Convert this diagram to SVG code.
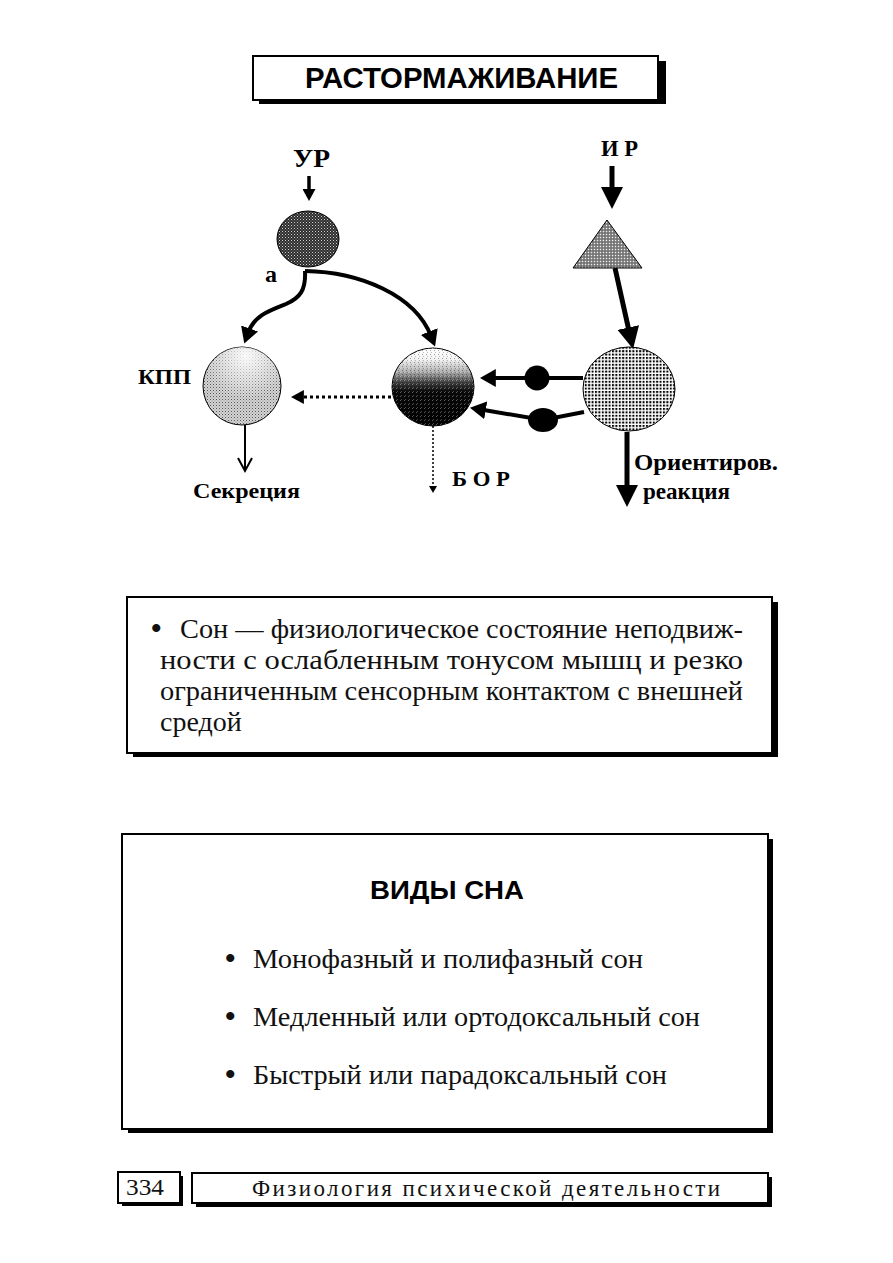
<svg xmlns="http://www.w3.org/2000/svg" width="893" height="1263" viewBox="0 0 893 1263">
<style>
.lbl{font-family:"Liberation Serif","Times New Roman",serif;font-weight:bold;fill:#000}
.body{font-family:"Liberation Serif","Times New Roman",serif;fill:#111}
.bul{font-family:"Liberation Serif","Times New Roman",serif;font-weight:bold;fill:#111}
.head{font-family:"Liberation Sans",Arial,sans-serif;font-weight:bold;fill:#000}
.frame{fill:#fff;stroke:#000;stroke-width:2}
.shadow{fill:#000}
.conn{fill:none;stroke:#000}
</style>
<defs>
<pattern id="pDark" width="3" height="3" patternUnits="userSpaceOnUse"><rect width="3" height="3" fill="#2e2e2e"/><rect width="1" height="1" fill="#d0d0d0"/><rect x="1.5" y="1.5" width="1" height="1" fill="#9a9a9a"/></pattern>
<pattern id="pLight" width="3" height="3" patternUnits="userSpaceOnUse"><rect width="3" height="3" fill="#d4d4d4"/><rect width="1" height="1" fill="#555"/><rect x="1.5" y="1.5" width="1" height="1" fill="#8a8a8a"/></pattern>
<pattern id="pTri" width="3" height="3" patternUnits="userSpaceOnUse"><rect width="3" height="3" fill="#8c8c8c"/><rect width="1" height="1" fill="#eee"/><rect x="1.5" y="1.5" width="1" height="1" fill="#333"/></pattern>
<pattern id="pGrid" width="3.4" height="3.4" patternUnits="userSpaceOnUse"><rect width="3.4" height="3.4" fill="#fff"/><rect width="2" height="2" fill="#000"/></pattern>
<pattern id="pGrain" width="4" height="4" patternUnits="userSpaceOnUse"><rect width="1" height="1" fill="#fff" opacity="0.35"/><rect x="2" y="2" width="1" height="1" fill="#000" opacity="0.35"/><rect x="3" y="0" width="1" height="1" fill="#000" opacity="0.25"/><rect x="1" y="3" width="1" height="1" fill="#fff" opacity="0.25"/></pattern>
<radialGradient id="gHi" cx="0.55" cy="0.12" r="0.55"><stop offset="0" stop-color="#fff" stop-opacity="0.9"/><stop offset="1" stop-color="#fff" stop-opacity="0"/></radialGradient>
<linearGradient id="gBor" x1="0" y1="0" x2="0" y2="1"><stop offset="0" stop-color="#fff"/><stop offset="0.14" stop-color="#f4f4f4"/><stop offset="0.3" stop-color="#b0b0b0"/><stop offset="0.45" stop-color="#3a3a3a"/><stop offset="0.56" stop-color="#0a0a0a"/><stop offset="1" stop-color="#000"/></linearGradient>
<marker id="ahL" viewBox="0 0 10 10" refX="3" refY="5" markerWidth="22" markerHeight="22" preserveAspectRatio="none" orient="auto" markerUnits="userSpaceOnUse"><path d="M0,0 L10,5 L0,10 z" fill="#000"/></marker>
<marker id="ahM" viewBox="0 0 10 10" refX="3" refY="5" markerWidth="16" markerHeight="18" preserveAspectRatio="none" orient="auto" markerUnits="userSpaceOnUse"><path d="M0,0 L10,5 L0,10 z" fill="#000"/></marker>
<marker id="ahS" viewBox="0 0 10 10" refX="3" refY="5" markerWidth="12" markerHeight="13" preserveAspectRatio="none" orient="auto" markerUnits="userSpaceOnUse"><path d="M0,0 L10,5 L0,10 z" fill="#000"/></marker>
<marker id="ahD" viewBox="0 0 10 10" refX="3" refY="5" markerWidth="13" markerHeight="14" preserveAspectRatio="none" orient="auto" markerUnits="userSpaceOnUse"><path d="M0,0 L10,5 L0,10 z" fill="#000"/></marker>
</defs>
<rect width="893" height="1263" fill="#fff"/>

<g id="title">
<rect class="shadow" x="259" y="61" width="407" height="43"/>
<rect class="frame" x="253" y="56" width="405" height="44"/>
<text class="head" x="305" y="88" font-size="29" textLength="313" lengthAdjust="spacingAndGlyphs">РАСТОРМАЖИВАНИЕ</text>
</g>

<g id="connectors">
<line class="conn" x1="309" y1="176" x2="309" y2="192.6" stroke-width="3.5" marker-end="url(#ahS)"/>
<line class="conn" x1="612" y1="166" x2="612" y2="193.6" stroke-width="5" marker-end="url(#ahL)"/>
<line class="conn" x1="615" y1="268" x2="629.7" y2="334" stroke-width="5" marker-end="url(#ahL)"/>
<path class="conn" d="M305,271 C306,290 300,298 286,304 C268,311 254,316 248,333" stroke-width="4" marker-end="url(#ahM)"/>
<path class="conn" d="M305,271 C360,272 415,295 431,336" stroke-width="4" marker-end="url(#ahM)"/>
<line class="conn" x1="391" y1="397" x2="300" y2="397" stroke-width="3" stroke-dasharray="3,3" marker-end="url(#ahD)"/>
<line class="conn" x1="245" y1="425" x2="245" y2="470" stroke-width="2"/>
<polyline class="conn" points="238,458 245,471 252,458" stroke-width="2"/>
<line class="conn" x1="433" y1="426" x2="433" y2="487" stroke-width="1.5" stroke-dasharray="2,2"/>
<polygon points="429,486 437,486 433,493" fill="#000"/>
<line class="conn" x1="583" y1="378" x2="491" y2="378" stroke-width="4" marker-end="url(#ahM)"/>
<polyline class="conn" points="584,412 543,420 481,409.5" stroke-width="4" marker-end="url(#ahM)"/>
<line class="conn" x1="627" y1="432" x2="627" y2="491.6" stroke-width="5" marker-end="url(#ahL)"/>
<circle cx="537" cy="378" r="12.5" fill="#000"/>
<ellipse cx="543" cy="420" rx="15" ry="12" fill="#000"/>
</g>

<g id="node-ur">
<text class="lbl" x="293" y="167" font-size="26" textLength="37" lengthAdjust="spacingAndGlyphs">УР</text>
<ellipse cx="308" cy="239" rx="31" ry="28" fill="url(#pDark)" stroke="#000" stroke-width="1"/>
<text class="lbl" x="265" y="282" font-size="24">а</text>
</g>

<g id="node-ir">
<text class="lbl" x="601" y="156" font-size="24" textLength="37" lengthAdjust="spacingAndGlyphs">И Р</text>
<polygon points="607,220 573,268 642,268" fill="url(#pTri)" stroke="#000" stroke-width="1"/>
</g>

<g id="node-kpp">
<text class="lbl" x="138" y="384" font-size="22" textLength="53" lengthAdjust="spacingAndGlyphs">КПП</text>
<circle cx="242" cy="386" r="39" fill="url(#pLight)" stroke="#000" stroke-width="1"/>
<circle cx="242" cy="386" r="39" fill="url(#gHi)"/>
<text class="lbl" x="193" y="498" font-size="22" textLength="107" lengthAdjust="spacingAndGlyphs">Секреция</text>
</g>

<g id="node-bor">
<ellipse cx="433" cy="387" rx="41" ry="39" fill="url(#gBor)" stroke="#000" stroke-width="1"/>
<ellipse cx="433" cy="387" rx="41" ry="39" fill="url(#pGrain)"/>
<text class="lbl" x="452" y="486" font-size="21" textLength="58" lengthAdjust="spacingAndGlyphs">Б О Р</text>
</g>

<g id="node-or">
<ellipse cx="629" cy="389" rx="46" ry="42" fill="url(#pGrid)" stroke="#000" stroke-width="1"/>
<text class="lbl" x="634" y="470" font-size="24" textLength="144" lengthAdjust="spacingAndGlyphs">Ориентиров.</text>
<text class="lbl" x="643" y="499" font-size="24" textLength="87" lengthAdjust="spacingAndGlyphs">реакция</text>
</g>

<g id="box-definition">
<rect class="shadow" x="133" y="602" width="645" height="155"/>
<rect class="frame" x="127" y="597" width="645" height="156"/>
<text class="bul" x="151" y="638" font-size="30">•</text>
<text class="body" x="180" y="638" font-size="28" textLength="563" lengthAdjust="spacingAndGlyphs">Сон — физиологическое состояние неподвиж-</text>
<text class="body" x="160" y="669" font-size="28" textLength="583" lengthAdjust="spacingAndGlyphs">ности с ослабленным тонусом мышц и резко</text>
<text class="body" x="160" y="700" font-size="28" textLength="583" lengthAdjust="spacingAndGlyphs">ограниченным сенсорным контактом с внешней</text>
<text class="body" x="160" y="731" font-size="28">средой</text>
</g>

<g id="box-types">
<rect class="shadow" x="128" y="839" width="645" height="294"/>
<rect class="frame" x="122" y="834" width="646" height="295"/>
<text class="head" x="370" y="899" font-size="26" textLength="154" lengthAdjust="spacingAndGlyphs">ВИДЫ СНА</text>
<text class="bul" x="225" y="968" font-size="30">•</text>
<text class="body" x="253" y="968" font-size="28" textLength="390" lengthAdjust="spacingAndGlyphs">Монофазный и полифазный сон</text>
<text class="bul" x="225" y="1026" font-size="30">•</text>
<text class="body" x="253" y="1026" font-size="28" textLength="447" lengthAdjust="spacingAndGlyphs">Медленный или ортодоксальный сон</text>
<text class="bul" x="225" y="1084" font-size="30">•</text>
<text class="body" x="253" y="1084" font-size="28" textLength="414" lengthAdjust="spacingAndGlyphs">Быстрый или парадоксальный сон</text>
</g>

<g id="footer">
<rect class="shadow" x="122" y="1176" width="61" height="30"/>
<rect class="frame" x="118" y="1172" width="62" height="31"/>
<text class="body" x="126" y="1195" font-size="23" textLength="38" lengthAdjust="spacingAndGlyphs">334</text>
<rect class="shadow" x="196" y="1177" width="576" height="30"/>
<rect class="frame" x="192" y="1173" width="576" height="30"/>
<text class="body" x="252" y="1196" font-size="23" textLength="468" lengthAdjust="spacing">Физиология психической деятельности</text>
</g>
</svg>
